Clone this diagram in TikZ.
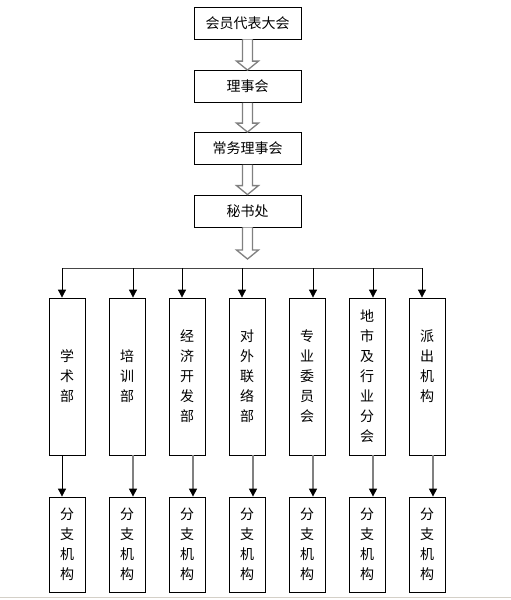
\documentclass[tikz,border=0pt]{standalone}
\usepackage{fontspec}
\newfontfamily\cjk{Noto Sans CJK SC}
\usetikzlibrary{calc,arrows.meta}
\definecolor{shaftgray}{RGB}{128,128,128}
\definecolor{bargray}{RGB}{70,70,70}
\definecolor{edgegray}{RGB}{212,208,200}
\newcommand{\hollowarrow}[2]{%
  \draw[harrow] ($(#1)+(-5,0)$) -- ($(#2)+(-5,-9)$) -- ($(#2)+(-11,-9)$) -- (#2)
    -- ($(#2)+(11,-9)$) -- ($(#2)+(5,-9)$) -- ($(#1)+(5,0)$);}
\begin{document}
\begin{tikzpicture}[x=1pt,y=-1pt,
  topbox/.style={draw=black,line width=0.8pt,minimum width=107pt,minimum height=32pt,inner sep=0pt,
    font=\cjk\fontsize{14}{20}\selectfont},
  tallbox/.style={draw=black,line width=0.8pt,minimum width=36pt,minimum height=157pt,inner sep=0pt,
    align=center,font=\cjk\fontsize{14}{20}\selectfont},
  lowbox/.style={draw=black,line width=0.8pt,minimum width=36pt,minimum height=95pt,inner sep=0pt,
    align=center,font=\cjk\fontsize{14}{20}\selectfont},
  harrow/.style={draw=shaftgray,line width=1.3pt,fill=white,line join=miter},
  arr/.style={line width=0.8pt,-{Triangle[width=8pt,length=8pt]}},
  arrg/.style={line width=1.1pt,draw=shaftgray,-{Triangle[width=8pt,length=8pt,color=black,fill=black]}}
]
\useasboundingbox (0,0) rectangle (511,600);
\draw[edgegray,line width=1.5pt] (0,597.5) -- (511,597.5);

% top chain
\node[topbox] (n1) at (247.5,23) {会员代表大会};
\node[topbox] (n2) at (247.5,86.5) {理事会};
\node[topbox] (n3) at (247.5,148.5) {常务理事会};
\node[topbox] (n4) at (247.5,211) {秘书处};
\coordinate (tip) at (247.5,259);

\hollowarrow{n1.south}{n2.north}
\hollowarrow{n2.south}{n3.north}
\hollowarrow{n3.south}{n4.north}
\hollowarrow{n4.south}{tip}

% departments
\node[tallbox] (d1) at (67,376.5) {学\\术\\部};
\node[tallbox] (d2) at (127,376.5) {培\\训\\部};
\node[tallbox] (d3) at (187,376.5) {经\\济\\开\\发\\部};
\node[tallbox] (d4) at (247,376.5) {对\\外\\联\\络\\部};
\node[tallbox] (d5) at (307,376.5) {专\\业\\委\\员\\会};
\node[tallbox] (d6) at (367,376.5) {地\\市\\及\\行\\业\\分\\会};
\node[tallbox] (d7) at (427,376.5) {派\\出\\机\\构\\\phantom{构}};

% branches
\foreach \i/\x in {1/67,2/127,3/187,4/247,5/307,6/367,7/427}{
  \node[lowbox] (b\i) at (\x,544.5) {分\\支\\机\\构};
}

% distribution bar
\coordinate (barL) at (62,268);
\coordinate (barR) at (422,268);
\draw[bargray,line width=0.9pt] (barL) -- (barR);

\draw[arr] ([xshift=-5pt]d1.north |- barL) -- ([xshift=-5pt]d1.north);
\draw[arr] ([xshift=6pt]d2.north |- barL) -- ([xshift=6pt]d2.north);
\draw[arr] ([xshift=-5pt]d3.north |- barL) -- ([xshift=-5pt]d3.north);
\draw[arr] ([xshift=-5pt]d4.north |- barL) -- ([xshift=-5pt]d4.north);
\draw[arr] ([xshift=6pt]d5.north |- barL) -- ([xshift=6pt]d5.north);
\draw[arr] ([xshift=6pt]d6.north |- barL) -- ([xshift=6pt]d6.north);
\draw[arr] ([xshift=-5pt]d7.north |- barL) -- ([xshift=-5pt]d7.north);

% lower arrows
\draw[arr] ([xshift=-5pt]d1.south) -- ([xshift=-5pt]b1.north);
\foreach \i in {2,...,7}{
  \draw[arrg] ([xshift=6pt]d\i.south) -- ([xshift=6pt]b\i.north);
}
\end{tikzpicture}
\end{document}
